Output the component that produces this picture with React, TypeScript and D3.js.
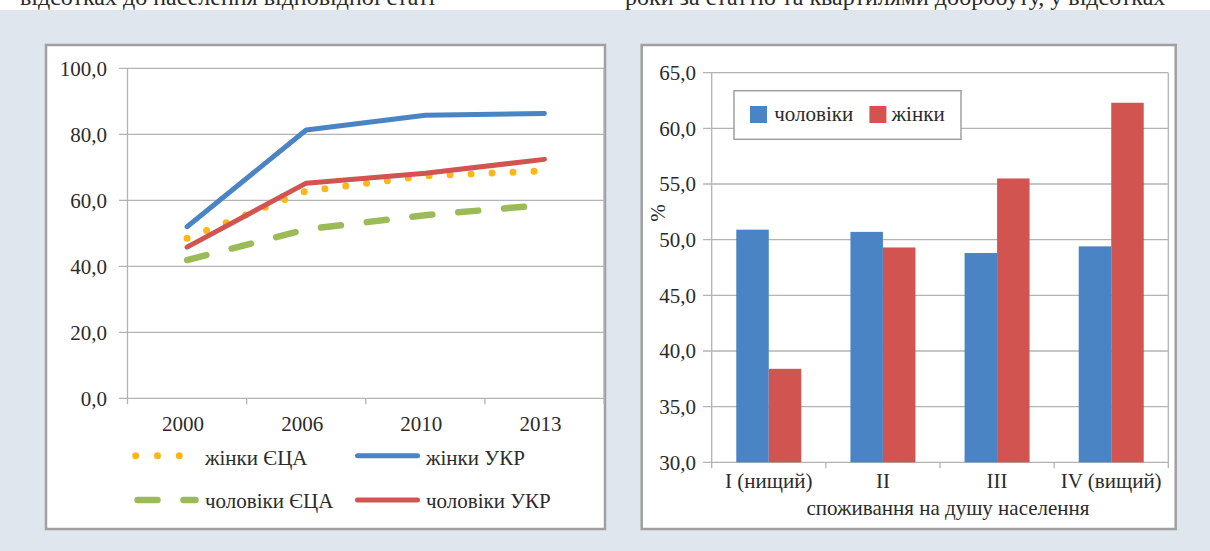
import React from "react";
import * as d3 from "d3";

// ---- Left chart data ----
const years = ["2000", "2006", "2010", "2013"];
const womenEU = [48.5, 62.8, 67.4, 68.9];
const womenUA = [52.0, 81.3, 85.8, 86.3];
const menEU = [41.9, 51.2, 55.5, 58.6];
const menUA = [45.8, 65.2, 68.2, 72.4];
const leftTicks = [0, 20, 40, 60, 80, 100];

// ---- Right chart data ----
const quartiles = ["I (нищий)", "II", "III", "IV (вищий)"];
const menQ = [50.9, 50.7, 48.8, 49.4];
const womenQ = [38.4, 49.3, 55.5, 62.3];
const rightTicks = [30, 35, 40, 45, 50, 55, 60, 65];

const BLUE = "#4a84c4";
const RED = "#d25450";
const YELLOW = "#fbb617";
const GREEN = "#9bbb59";
const GRID = "#b3b3b3";
const BORDER = "#a0a0a0";
const TXT = "#2b2b2b";
const FONT = "'Liberation Serif', 'Times New Roman', serif";

const fmt = (v: number) => v.toFixed(1).replace(".", ",");

function LeftChart() {
  const x = d3.scaleBand<string>().domain(years).range([127.5, 604]).padding(0);
  const y = d3.scaleLinear().domain([0, 100]).range([398.3, 68.3]);
  const cx = (d: string) => (x(d) as number) + x.bandwidth() / 2;
  const line = d3
    .line<number>()
    .x((_, i) => cx(years[i]))
    .y((v) => y(v));
  const bounds = years.map((d) => x(d) as number).concat([x.range()[1]]);
  return (
    <g>
      <rect x={46} y={45} width={559} height={484} fill="#fff" stroke={BORDER} strokeWidth={2.5} />
      {leftTicks.map((t) => (
        <g key={t}>
          <line x1={119} x2={604} y1={y(t)} y2={y(t)} stroke={GRID} strokeWidth={1.3} />
          <text x={107} y={y(t)} dy="0.35em" textAnchor="end" fontSize={21} fill={TXT} fontFamily={FONT}>
            {fmt(t)}
          </text>
        </g>
      ))}
      <line x1={127.5} x2={127.5} y1={y(100)} y2={y(0)} stroke={GRID} strokeWidth={1.3} />
      <line x1={604} x2={604} y1={y(100)} y2={y(0)} stroke={GRID} strokeWidth={1.3} />
      {bounds.map((b, i) => (
        <line key={i} x1={b} x2={b} y1={y(0)} y2={y(0) + 6} stroke={GRID} strokeWidth={1.3} />
      ))}
      {years.map((d) => (
        <text key={d} x={cx(d) - 4} y={431} textAnchor="middle" fontSize={21} fill={TXT} fontFamily={FONT}>
          {d}
        </text>
      ))}
      <path d={line(menEU) || ""} fill="none" stroke={GREEN} strokeWidth={6.5} strokeDasharray="20 26" strokeLinecap="round" />
      <path d={line(womenEU) || ""} fill="none" stroke={YELLOW} strokeWidth={7} strokeDasharray="0 21" strokeLinecap="round" />
      <path d={line(womenUA) || ""} fill="none" stroke={BLUE} strokeWidth={5} strokeLinecap="round" strokeLinejoin="round" />
      <path d={line(menUA) || ""} fill="none" stroke={RED} strokeWidth={5} strokeLinecap="round" strokeLinejoin="round" />
      {/* legend */}
      <line x1={135.7} x2={199} y1={455.7} y2={455.7} stroke={YELLOW} strokeWidth={7} strokeDasharray="0 21.8" strokeLinecap="round" />
      <text x={205} y={465} fontSize={21} fill={TXT} fontFamily={FONT}>жінки ЄЦА</text>
      <line x1={357.5} x2={417.5} y1={455.7} y2={455.7} stroke={BLUE} strokeWidth={5} strokeLinecap="round" />
      <text x={426} y={465} fontSize={21} fill={TXT} fontFamily={FONT}>жінки УКР</text>
      <line x1={137.5} x2={195.5} y1={500} y2={500} stroke={GREEN} strokeWidth={6.5} strokeDasharray="20 26" strokeLinecap="round" />
      <text x={205} y={508} fontSize={21} fill={TXT} fontFamily={FONT}>чоловіки ЄЦА</text>
      <line x1={357.5} x2={417.5} y1={500} y2={500} stroke={RED} strokeWidth={5} strokeLinecap="round" />
      <text x={426} y={508} fontSize={21} fill={TXT} fontFamily={FONT}>чоловіки УКР</text>
    </g>
  );
}

function RightChart() {
  const x0 = d3.scaleBand<string>().domain(quartiles).range([711.7, 1168.3]).padding(0);
  const inner = 32.5;
  const y = d3.scaleLinear().domain([30, 65]).range([462.3, 72.7]);
  const bounds = quartiles.map((d) => x0(d) as number).concat([x0.range()[1]]);
  const center = (d: string) => (x0(d) as number) + x0.bandwidth() / 2;
  return (
    <g>
      <rect x={641.7} y={45} width={534} height={484} fill="#fff" stroke={BORDER} strokeWidth={2.5} />
      {rightTicks.map((t) => (
        <g key={t}>
          <line x1={703} x2={1168.3} y1={y(t)} y2={y(t)} stroke={GRID} strokeWidth={1.3} />
          <text x={696} y={y(t)} dy="0.35em" textAnchor="end" fontSize={21} fill={TXT} fontFamily={FONT}>
            {fmt(t)}
          </text>
        </g>
      ))}
      <line x1={711.7} x2={711.7} y1={y(65)} y2={y(30)} stroke={GRID} strokeWidth={1.3} />
      <line x1={1168.3} x2={1168.3} y1={y(65)} y2={y(30)} stroke={GRID} strokeWidth={1.3} />
      {bounds.map((b, i) => (
        <line key={i} x1={b} x2={b} y1={y(30)} y2={y(30) + 6} stroke={GRID} strokeWidth={1.3} />
      ))}
      {quartiles.map((d, i) => (
        <g key={d}>
          <rect x={center(d) - inner} y={y(menQ[i])} width={inner} height={y(30) - y(menQ[i])} fill={BLUE} />
          <rect x={center(d)} y={y(womenQ[i])} width={inner} height={y(30) - y(womenQ[i])} fill={RED} />
          <text x={center(d)} y={488} textAnchor="middle" fontSize={21} fill={TXT} fontFamily={FONT}>
            {d}
          </text>
        </g>
      ))}
      <text x={(711.7 + 1168.3) / 2 + 8} y={515} textAnchor="middle" fontSize={21} fill={TXT} fontFamily={FONT}>
        споживання на душу населення
      </text>
      <text transform="translate(657.6,213) rotate(-90)" dy="0.35em" textAnchor="middle" fontSize={21} fill={TXT} fontFamily={FONT}>
        %
      </text>
      {/* legend */}
      <rect x={734} y={90.7} width={227} height={48.6} fill="#fff" stroke={BORDER} strokeWidth={1.5} />
      <rect x={750} y={106} width={17} height={17} fill={BLUE} />
      <text x={774.3} y={120.7} fontSize={21} fill={TXT} fontFamily={FONT}>чоловіки</text>
      <rect x={869.4} y={106} width={17} height={17} fill={RED} />
      <text x={891.6} y={120.7} fontSize={21} fill={TXT} fontFamily={FONT}>жінки</text>
    </g>
  );
}

export default function App() {
  return (
    <svg
      width={1210}
      height={551}
      style={{ position: "absolute", left: 0, top: 0, display: "block" }}
    >
      <rect x={0} y={0} width={1210} height={551} fill="#fff" />
      <rect x={0} y={10} width={1210} height={541} fill="#dfe6ee" />
      <text x={20} y={5} fontSize={24} fill={TXT} fontFamily={FONT}>
        відсотках до населення відповідної статі
      </text>
      <text x={625} y={5} fontSize={24} fill={TXT} fontFamily={FONT}>
        роки за статтю та квартилями добробуту, у відсотках
      </text>
      <LeftChart />
      <RightChart />
    </svg>
  );
}
